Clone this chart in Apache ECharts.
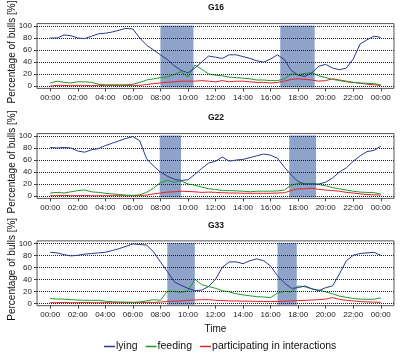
<!DOCTYPE html>
<html>
<head>
<meta charset="utf-8">
<script src="https://cdn.jsdelivr.net/npm/echarts@6/dist/echarts.min.js"></script>
<style>html,body{margin:0;padding:0;background:#fff}#c{width:400px;height:355px}</style>
</head>
<body>
<div id="c"></div>
<script>
// time of day in hours
const hours = [0,0.5,1,1.5,2,2.5,3,3.5,4,4.5,5,5.5,6,6.5,7,7.5,8,8.5,9,9.5,10,10.5,11,11.5,12,12.5,13,13.5,14,14.5,15,15.5,16,16.5,17,17.5,18,18.5,19,19.5,20,20.5,21,21.5,22,22.5,23,23.5,24];
const xTicks = [0,2,4,6,8,10,12,14,16,18,20,22,24];
const yTicks = [0,20,40,60,80,100];
const groups = ['G16','G22','G33'];
const seriesNames = ['lying','feeding','participating in interactions'];

const lyingG16 = [80,80,85,84,80,79,83,87,88,90, 93,96,95,80,68,60,52,44,34,26, 22,30,40,50,48,46,52,52,49,46, 42,40,45,52,44,26,18,16,22,33, 36,30,27,30,45,70,77,83,81];
const feedingG16 = [5,8,6,5,7,7,6,3,2,2, 2,2,3,6,10,12,14,15,19,24, 15,35,28,20,18,17,15,14,13,12, 10,10,9,9,12,20,19,21,22,17, 14,11,9,7,6,5,4.5,4,2];
const interG16 = [0,1,1,0.5,1,1,0.5,1,0.5,1, 0.5,1,1,1,2.5,4,5,6.5,7,8, 8,8,9,8,7,9,7,8,8,7, 6,6,5,6,8,11,12,11,10,8, 9,12,10,8,6,4.5,3,2,1];

const lyingG22 = [81,80,81,80,75,73,77,79,84,88, 92,96,99,92,62,50,40,33,28,26, 27,36,46,55,58,65,58,60,61,64, 67,70,68,63,48,35,24,20,20,20, 23,30,40,47,58,67,74,76,83];
const feedingG22 = [5,6,5,7,9,10,7,6,4.5,3.5, 2.5,1.5,1,2,6,13,22,26,23,25, 20,18,15,12,11,9,9,8.5,8,7, 8,8,8,8.5,10,18,21,20,21,19, 17,14,12,10,8,6.5,6,5.5,3.5];
const interG22 = [0.5,0.5,1,0.5,0.5,1,0.5,0.5,0.5,0.5, 0.5,0.5,0.5,0.5,1.5,3.5,5,6.5,7,8, 7.5,7,6,6.5,6,5.5,5,5,4.5,4.5, 4.5,4.5,4.5,5,5.5,9,12,12,13,11, 10,9,8,6,5,3.5,2.5,2,1.5];

const lyingG33 = [85,84,81,79,80,82,83,84,85,88, 91,95,99,98,97,86,69,53,36,30, 25,21,22,28,40,60,69,69,66,71, 74,71,62,46,34,25,26,29,24,21, 26,29,49,71,80,83,84,85,80];
const feedingG33 = [8,7,7,6,5.5,5,5,5,3.5,2.5, 2.2,2,1.7,2.2,4,6,5,20,20,18, 21,40,31,28,25,21,19,16,14,12.5, 11,10.5,9.5,17,20,19,29,27.5,24,22, 19,16,12,10,8,7,6.7,6.7,9];
const interG33 = [1,1,1.5,1,1,1.5,1,1,1,1, 1,1,1,1,1.5,1.5,2,3,3.5,4, 5,5.5,6,6,5,4.5,4,4,3.5,3.5, 3.2,3,2.8,3,3.5,4,4.5,5,5.5,6, 7,9.5,6.5,5,4,3,2.2,2,1.7];

// feeding periods (shaded), hours
const shadeG16 = [[8.0,10.4],[16.7,19.2]];
const shadeG22 = [[7.95,9.5],[17.35,19.3]];
const shadeG33 = [[8.5,10.5],[16.5,17.9]];

const data = [
  [lyingG16, feedingG16, interG16, shadeG16],
  [lyingG22, feedingG22, interG22, shadeG22],
  [lyingG33, feedingG33, interG33, shadeG33]
];
const colors = ['#2c3a8e','#1f9a2a','#e42228'];
const tops = [23.6, 133.6, 240.9];
const FONT = '"Liberation Sans", Arial, sans-serif';

const grid = [], xAxis = [], yAxis = [], series = [], title = [];
groups.forEach((g, k) => {
  grid.push({left: 37, width: 357, top: tops[k], height: 64.8, show: true, borderColor: '#555', borderWidth: 1,
    containLabel: false, outerBoundsMode: 'none'});
  title.push({text: g, left: 216, top: tops[k] - 20, textAlign: 'center', padding: 0,
    textStyle: {fontFamily: FONT, fontSize: 8.5, fontWeight: 'bold', color: '#111'}});
  xAxis.push({
    type: 'value', gridIndex: k, min: -0.96, max: 24.96,
    name: k === 2 ? 'Time' : '', nameLocation: 'middle', nameGap: 19, nameMoveOverlap: false,
    nameTextStyle: {fontFamily: FONT, fontSize: 10, color: '#111'},
    axisLine: {show: false, onZero: false},
    axisTick: {show: true, length: 3, customValues: xTicks, lineStyle: {color: '#444'}},
    axisLabel: {customValues: xTicks, margin: 5, fontFamily: FONT, fontSize: 8, color: '#222',
      formatter: v => String(v % 24).padStart(2, '0') + ':00'},
    splitLine: {show: false}
  });
  yAxis.push({
    type: 'value', gridIndex: k, min: -4, max: 104,
    name: 'Percentage of bulls [%]', nameLocation: 'middle', nameGap: 20, nameRotate: 90,
    nameMoveOverlap: false,
    nameTextStyle: {fontFamily: FONT, fontSize: 10, color: '#111', padding: [0, 0, 0, 8]},
    axisLine: {show: false, onZero: false},
    axisTick: {show: true, length: 3, customValues: yTicks, lineStyle: {color: '#444'}},
    axisLabel: {customValues: yTicks, margin: 5, fontFamily: FONT, fontSize: 8, color: '#222'},
    splitLine: {show: false}
  });
  const [ly, fe, it, sh] = data[k];
  // shaded feeding periods + dotted grid lines
  series.push({
    type: 'line', xAxisIndex: k, yAxisIndex: k, data: [], z: 1, silent: true,
    markLine: {silent: true, symbol: 'none', label: {show: false},
      lineStyle: {type: 'dotted', color: '#222', width: 1},
      data: yTicks.map(v => ({yAxis: v}))},
    markArea: {silent: true, itemStyle: {color: '#8fa3c8', opacity: 1},
      data: sh.map(s => [{xAxis: s[0], yAxis: -2.5}, {xAxis: s[1], yAxis: 100.8}])}
  });
  [ly, fe, it].forEach((arr, j) => {
    series.push({
      name: seriesNames[j], type: 'line', xAxisIndex: k, yAxisIndex: k, z: 3 + (2 - j),
      showSymbol: false, symbol: 'none', animation: false,
      lineStyle: {color: colors[j], width: 1}, itemStyle: {color: colors[j]},
      data: hours.map((h, i) => [h, arr[i]])
    });
  });
});

const chart = echarts.init(document.getElementById('c'), null, {renderer: 'canvas'});
chart.setOption({
  animation: false,
  backgroundColor: '#fff',
  title, grid, xAxis, yAxis, series,
  legend: {
    data: seriesNames, left: 104, top: 341, padding: 0,
    icon: 'rect', itemWidth: 11, itemHeight: 1.5, itemGap: 8,
    textStyle: {fontFamily: FONT, fontSize: 10.5, color: '#111', padding: [0, 0, 0, -4]},
    selectedMode: false
  }
});
</script>
</body>
</html>
